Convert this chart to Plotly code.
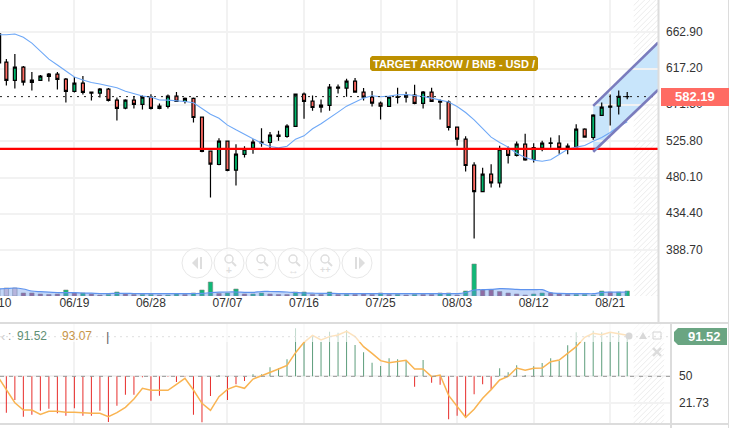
import plotly.graph_objects as go

W, H = 737, 428
def px(x): return x / W
def py(y): return 1 - y / H

# ---------- data ----------
dates = ["06/%02d" % d for d in range(10, 31)] + ["07/%02d" % d for d in range(1, 32)] + ["08/%02d" % d for d in range(1, 24)]
idx = list(range(len(dates)))
tick_labels = ["06/19", "06/28", "07/07", "07/16", "07/25", "08/03", "08/12", "08/21"]
first_label = "10"
price_ticks = [662.9, 617.2, 571.5, 525.8, 480.1, 434.4, 388.7]

opens = [661, 625.7, 602.6, 619.4, 600, 602.6, 607.6, 610.5, 604.2, 588.7,
         599.2, 586.6, 586.6, 591.6, 577.8, 567.7, 577.8, 572.3, 581.6, 567.3,
         569.8, 582.8, 576.1, 579.9, 556.4, 513.5, 496.7, 526.1, 489.6, 509.5,
         517.3, 524, 524.4, 532, 532, 544.6, 585.3, 576.5, 569, 571.1,
         592.9, 592.9, 601.7, 587.9, 581.6, 574, 569.8, 581.1, 581.6, 584,
         573.6, 587.9, 575.3, 575.3, 543.8, 528.6, 495.9, 462.7, 484.5, 473.6,
         516, 508.1, 522.3, 503, 517.7, 523.2, 523.6, 517.7, 519, 541.2,
         530.7, 558.5, 568.9, 570.2, 582]
highs = [662, 629.4, 635.7, 620.6, 613.1, 609.3, 611.8, 613.1, 605.5, 606.8,
         608, 588.7, 592.9, 592.9, 581.1, 579, 582.8, 583.7, 585.3, 573.6,
         584.9, 587.9, 581.1, 581.1, 557.2, 514.4, 529.9, 526.5, 522.3, 519.6,
         528.6, 542.5, 537.5, 539.1, 547.5, 586.2, 587.4, 583.7, 578.6, 598,
         597.5, 604.7, 605.5, 592.9, 589.1, 576.1, 582, 593.3, 588.3, 597.1,
         589.1, 593.3, 578.6, 577.4, 544.6, 532.4, 499.7, 492.5, 497.1, 520.2,
         519.4, 525.7, 535.4, 523.6, 526.5, 530.7, 533.7, 523.2, 547.5, 542.5,
         560.1, 574.8, 584.9, 590, 587.9]
lows = [624, 596.3, 592.5, 596.3, 590, 601.7, 601.3, 591.2, 574.8, 587.4,
        584.9, 577.4, 581.1, 576.1, 552.2, 566.4, 567.3, 566, 566, 566.4,
        567.3, 575.3, 573.6, 549.6, 512.3, 455.1, 495.9, 488.3, 470.3, 505.5,
        510.2, 519, 517.3, 526.5, 530.3, 543.8, 554.3, 564.3, 562.2, 564.3,
        586.2, 582, 587, 577.4, 569.8, 553.4, 569.8, 573.6, 574.8, 572.7,
        567.3, 575.3, 553.4, 539.6, 520.2, 487.9, 403.5, 462.7, 467.7, 467.7,
        498, 506.8, 501.3, 499.2, 513.5, 517.7, 510.2, 509.7, 519, 530.7,
        527.8, 558, 545.9, 559.7, 579]
closes = [625, 602.6, 619.4, 600.5, 603, 608, 610.5, 603.8, 588.7, 599.2,
          587.4, 587.9, 591.6, 577.4, 567.3, 577.8, 572.3, 581.6, 567.3, 570.2,
          582.8, 576.1, 579.9, 555.9, 513.1, 497.1, 526.1, 489.2, 509.7, 516,
          524.9, 524.9, 533.7, 533.7, 545, 585.3, 576.1, 568.5, 571.5, 594.2,
          594.2, 601.7, 587.9, 581.6, 574, 570.2, 581.6, 582, 584, 573.6,
          587.9, 576.1, 576.5, 543.3, 528.6, 495.5, 462.7, 484.5, 473.6, 516,
          508.1, 522.3, 502.6, 518.1, 523.6, 524, 517.7, 519.8, 541.2, 531.2,
          558.9, 568.9, 570.2, 582.4, 582.19]
price_ma = [660, 660, 661, 657, 649.6, 639, 629.4, 622, 614, 606.8,
            603, 600, 598, 595.8, 593.3, 589, 585.8, 583, 581.6, 578,
            577.8, 577, 576, 574.4, 567.7, 560, 555, 546.3, 540.4, 535,
            528.6, 523.6, 519.4, 517.7, 519.8, 528.6, 532.8, 541.7, 548, 555.9,
            562.7, 570.2, 575.3, 580.3, 583.2, 582, 582.8, 584.5, 584.9, 583.7,
            582.4, 580.3, 577.4, 575.3, 569.8, 562.2, 553, 541.7, 531.2, 524.4,
            518.6, 511, 505.5, 502.2, 500.9, 502.6, 508.9, 516, 518.6, 520.7,
            526.1, 530.7, 537, 544.6, 550.5]
last_price = 582.19
support = 516.5
channel_x = [70, 77.65]
channel_upper = [570.6, 650.4]
channel_lower = [512.7, 590.8]

volume = [7, 8, 8, 3, 3, 2, 1.5, 2, 6, 3,
          3, 2, 1, 1.5, 4, 2, 1.5, 1.5, 1.5, 1,
          1, 2, 1.5, 3, 6, 14, 2.5, 3, 7, 2,
          2, 3, 2, 1.5, 1.5, 4, 4, 1.5, 1.5, 4,
          1.5, 1.5, 1.5, 2, 1.5, 3, 1.5, 1.5, 1, 1.5,
          1.5, 1.5, 3, 3, 1, 5, 32, 6, 6, 4.5,
          3, 2, 1, 2, 3, 3, 2, 1.5, 1.5, 1.5,
          1, 5, 4, 4, 5]
volume_side = list("pppmmmmmgm" "gmmggmmggm" "ggmggg" "mggm" "ggmmmggmmg" "mgmmm" "gmgmg" "mm" "ggmgg" "mmmmmm" "gg" "mmm" "gggg" "mgg")
volume_ma = [7, 7.5, 8, 7, 5, 4.3, 3.8, 3.5, 3.3, 3.3,
             3, 2.8, 2.5, 2.5, 2.7, 2.7, 2.5, 2.4, 2.4, 2.4,
             2.4, 2.4, 2.4, 2.5, 2.6, 3.3, 3.8, 4, 4, 3.7,
             3.6, 4.5, 4.5, 4.3, 4, 3.5, 3, 2.8, 2.6, 2.6,
             2.5, 2.4, 2.4, 2.4, 2.4, 2.4, 2.4, 2.4, 2.4, 2.4,
             2.4, 2.4, 2.4, 2.4, 2.4, 3.5, 6, 6.3, 6.6, 7.3,
             7.2, 6.6, 6.3, 6.3, 6.3, 3.3, 2.6, 2.4, 2.4, 2.4,
             2.3, 3.6, 3.8, 3.8, 4]

osc_bars = [50, 12, 25.2, 7.8, 9.9, 14.1, 16.2, 11.3, 8.8, 16.5, 8.8,
            8.8, 14.1, 2.2, 19.3, 30.8, 30.8, 49, 24.5, 29.8, 49.7,
            44.1, 49.7, 9.9, 1.9, 29.4, 51.4, 25.2, 41.6, 45.1, 52.1,
            52.1, 59.4, 58.4, 67.8, 100.3, 86.3, 93.3, 86.3, 96.8, 95.7,
            98.5, 82.8, 75.1,
            64.3, 60.8, 68.9, 67.8, 67.1, 39.2, 67.1, 43.4, 41.3, 5,
            8.8, 6.7, 31.2, 41.6, 36.4, 58.4, 54.2, 61.5, 51.4, 60.5,
            64, 68.9, 66.4, 82.5, 96.1, 86.3, 97.8, 96.1, 96.4, 97.5, 91.52]
osc_line = [49.7, 35.7, 22.4, 14.8, 14.8, 10.2, 13.4, 13.4, 12.3, 12.3, 11.6,
            11.3, 11.3, 7.8, 12, 17.6, 26.3, 37.5, 35.4, 35.4, 35.4,
            41.6, 47.9, 35.7, 21.8, 14.4, 28.7, 36.4, 39.9, 37.5, 47.2,
            50.7, 54.6, 57.7, 61.5, 74.8, 85.6, 92.9, 88.1, 91.6, 93.3,
            97.1, 91.6, 81.1,
            74.1, 66.4, 64.3, 65.7, 66.8, 57.7, 57.7, 49.7, 51.4, 30.1,
            18.3, 7.1, 15.5, 27, 36.1, 46.2, 50, 58.7, 56.3, 58.4,
            58.7, 65.4, 67.1, 73.8, 81.1, 90.9, 95, 93.6, 96.1, 94.7, 93.07]
osc_mid = 50
osc_last = 91.52
osc_ticks = [50, 21.73]

# ---------- axes geometry ----------
XPER = 8.505
def i_of(x): return (x + 2.15) / XPER
MAIN_RANGE = [i_of(0), i_of(658)]
LOW_RANGE = [i_of(0), i_of(670)]
tick_idx = [dates.index(t) for t in tick_labels]
Y_MAIN = [331.2, 703.8]
Y_LOW = [1.16, 104.8]
FONT = "Liberation Sans, Arial, sans-serif"
GRID = "#f2f2f2"
BORDER = "#dcdcdc"

fig = go.Figure()

fig.add_trace(go.Candlestick(
    x=idx, open=opens, high=highs, low=lows, close=closes, xaxis="x", yaxis="y", whiskerwidth=0,
    increasing=dict(line=dict(color="#000000", width=1.2), fillcolor="#00b76c"),
    decreasing=dict(line=dict(color="#000000", width=1.2), fillcolor="#ff6b63"),
    hoverinfo="skip"))
# visible edge of the first candle, which the left border cuts
fig.add_trace(go.Scatter(x=[i_of(0.6)] * 2, y=[highs[0], lows[0]], mode="lines", line=dict(color="#000000", width=1.2),
                         xaxis="x", yaxis="y", hoverinfo="skip"))
fig.add_trace(go.Scatter(x=idx, y=price_ma, mode="lines", line=dict(color="#6ea8f7", width=1.1),
                         xaxis="x", yaxis="y", hoverinfo="skip"))

# dotted last price and support lines
fig.add_trace(go.Scatter(x=MAIN_RANGE, y=[last_price] * 2, mode="lines",
                         line=dict(color="#222222", width=1, dash="2px 5px"), xaxis="x", yaxis="y", hoverinfo="skip"))
fig.add_trace(go.Scatter(x=MAIN_RANGE, y=[support] * 2, mode="lines",
                         line=dict(color="#ff0000", width=2.2), xaxis="x", yaxis="y", hoverinfo="skip"))

# volume
colors = {"g": "#10b877", "m": "#a85578", "p": "#e8c8d4"}
fig.add_trace(go.Bar(x=idx, y=volume, width=0.52, xaxis="x", yaxis="y3",
                     marker=dict(color=[colors[c] for c in volume_side],
                                 line=dict(color="rgba(130,130,130,0.55)", width=1)), hoverinfo="skip"))
fig.add_trace(go.Scatter(x=idx, y=volume_ma, mode="lines", fill="tozeroy", fillcolor="rgba(100,149,237,0.38)",
                         line=dict(color="#5f93ee", width=1.2, shape="spline"), xaxis="x", yaxis="y3", hoverinfo="skip"))

# oscillator (nearly opaque colours make plotly round the thin bars to single pixels)
fig.add_trace(go.Bar(x=idx, y=[v - osc_mid for v in osc_bars], base=osc_mid, width=0.12, xaxis="x2", yaxis="y2",
                     marker=dict(color=["rgba(232,48,46,0.99)" if v < osc_mid else "rgba(95,159,125,0.99)" for v in osc_bars],
                                 line=dict(width=0)),
                     hoverinfo="skip"))
fig.add_trace(go.Scatter(x=idx, y=osc_line, mode="lines", line=dict(color="#f9b452", width=1.5),
                         xaxis="x2", yaxis="y2", hoverinfo="skip"))
fig.add_trace(go.Scatter(x=LOW_RANGE, y=[osc_mid] * 2, mode="lines", line=dict(color="#999999", width=1, dash="4px 5px"),
                         xaxis="x2", yaxis="y2", hoverinfo="skip"))
fig.add_trace(go.Scatter(x=LOW_RANGE, y=[osc_last] * 2, mode="lines", line=dict(color="#aaaaaa", width=1, dash="2px 4px"),
                         xaxis="x2", yaxis="y2", hoverinfo="skip"))

shapes = []

def hatch_path(x0, y0, x1, y1, step=5.5):
    # diagonal "/" strokes clipped to a pixel rectangle
    segs = []
    c = x0 + y0
    while c < x1 + y1:
        ax = max(x0, c - y1); ay = c - ax
        bx = min(x1, c - y0); by = c - bx
        if bx > ax:
            segs.append("M %f,%f L %f,%f" % (px(ax), py(ay), px(bx), py(by)))
        c += step
    return " ".join(segs)

for r in [(633.7, 0, 658, 296), (633.7, 324, 664, 423)]:
    shapes.append(dict(type="path", xref="paper", yref="paper", path=hatch_path(*r),
                       line=dict(color="#ececec", width=1), layer="below"))

# regression channel
cp = "M %f,%f L %f,%f L %f,%f L %f,%f Z" % (channel_x[0], channel_upper[0], channel_x[1], channel_upper[1],
                                            channel_x[1], channel_lower[1], channel_x[0], channel_lower[0])
shapes.append(dict(type="path", path=cp, xref="x", yref="y", fillcolor="#c8e5fb", line=dict(width=0), layer="below"))
for arr in (channel_upper, channel_lower):
    shapes.append(dict(type="line", xref="x", yref="y", x0=channel_x[0], x1=channel_x[1], y0=arr[0], y1=arr[1],
                       line=dict(color="#7a7cbd", width=2.6), layer="above"))

def prect(x0, y0, x1, y1, **kw):
    shapes.append(dict(type="rect", xref="paper", yref="paper", x0=px(x0), x1=px(x1), y0=py(y0), y1=py(y1), **kw))
def ppath(points, close=True, **kw):
    d = "M " + " L ".join("%f,%f" % (px(a), py(b)) for a, b in points) + (" Z" if close else "")
    shapes.append(dict(type="path", xref="paper", yref="paper", path=d, **kw))
def pcircle(cx, cy, r, **kw):
    shapes.append(dict(type="circle", xref="paper", yref="paper", x0=px(cx - r), x1=px(cx + r),
                       y0=py(cy - r), y1=py(cy + r), **kw))

# pale header wash in the oscillator panel
prect(0, 324, 670, 342, fillcolor="rgba(255,255,255,0.62)", line=dict(width=0), layer="above")

# panel frames
for (x0, y0, x1, y1) in [(0, 322, 729, 324), (0, 423, 729, 425), (657.5, 0, 659.5, 322), (670, 322, 672, 428),
                         (728, 0, 729, 428)]:
    prect(x0, y0, x1, y1, fillcolor=BORDER, line=dict(width=0), layer="above")

# title badge
ppath([(372, 56), (536, 56), (538, 58), (538, 69), (536, 71), (372, 71), (370, 69), (370, 58)],
      fillcolor="#bd9000", line=dict(width=0), layer="above")
# price tags
prect(661, 88, 729, 106, fillcolor="#ff6b63", line=dict(width=0), layer="above")
ppath([(674, 332), (678, 328), (727, 328), (727, 345), (678, 345), (674, 341)],
      fillcolor="#6aa582", line=dict(width=0), layer="above")

# navigation buttons
ICON = "#dedede"
nav_x = [197, 229, 261, 293, 325, 357]
for cx in nav_x:
    pcircle(cx, 263, 15, fillcolor="rgba(255,255,255,0.6)", line=dict(color="#e8e8e8", width=1), layer="above")
ppath([(198, 257), (198, 269), (192, 263)], fillcolor=ICON, line=dict(width=0), layer="above")
prect(200, 257, 202, 269, fillcolor=ICON, line=dict(width=0), layer="above")
prect(355, 257, 357, 269, fillcolor=ICON, line=dict(width=0), layer="above")
ppath([(359, 257), (359, 269), (365, 263)], fillcolor=ICON, line=dict(width=0), layer="above")
for cx in nav_x[1:5]:
    pcircle(cx, 259, 4, fillcolor="rgba(0,0,0,0)", line=dict(color=ICON, width=1.5), layer="above")
    ppath([(cx + 3, 262), (cx + 7, 266)], close=False, line=dict(color=ICON, width=2), layer="above")

# small panel icons
pcircle(629, 336, 3.5, fillcolor="#d8d8d8", line=dict(width=0), layer="above")
ppath([(639, 339), (643, 332), (647, 339)], fillcolor="#d8d8d8", line=dict(width=0), layer="above")
prect(653, 332, 661, 339, fillcolor="rgba(255,255,255,0)", line=dict(color="#d4d4d4", width=1), layer="above")
for a, b in [((653, 348), (661, 356)), ((661, 348), (653, 356))]:
    ppath([a, b], close=False, line=dict(color="#dcdcdc", width=2.4), layer="above")

def ann(x, y, text, color, size=12, bold=False, anchor="center"):
    return dict(xref="paper", yref="paper", x=px(x), y=py(y), text=("<b>%s</b>" % text) if bold else text,
                showarrow=False, xanchor=anchor, yanchor="middle",
                font=dict(family=FONT, size=size, color=color))

annotations = [
    ann(454, 63.5, "TARGET ARROW / BNB - USD /", "#ffffff", 11, True),
    ann(695, 96.5, "%.2f" % last_price, "#ffffff", 13, True),
    ann(723, 336.5, "%.2f" % osc_last, "#ffffff", 13, True, "right"),
    ann(15, 336, "91.52", "#5f8f75", 12, False, "left"),
    ann(60, 336, "93.07", "#c8964a", 12, False, "left"),
    ann(107, 336, "|", "#666666", 13),
    ann(3, 336, "‹", "#cccccc", 13),
    ann(9, 336, ":", "#999999", 12),
    ann(229, 270, "+", ICON, 10, True),
    ann(293, 270, "↔", ICON, 11),
    ann(325, 270, "++", ICON, 9, True),
    ann(261, 269, "−", ICON, 10, True),
    ann(5, 302.5, first_label, "#333333", 12),
]

xbase = dict(showgrid=True, gridcolor=GRID, gridwidth=1.5, zeroline=False, showline=False, ticks="",
             tickmode="array", tickvals=tick_idx)
fig.update_layout(
    width=W, height=H, margin=dict(l=0, r=0, t=0, b=0), autosize=False, showlegend=False,
    paper_bgcolor="#ffffff", plot_bgcolor="rgba(0,0,0,0)", boxgap=0.5, barmode="overlay",
    font=dict(family=FONT, size=12, color="#333333"),
    xaxis=dict(xbase, domain=[0, px(658)], range=MAIN_RANGE, ticktext=tick_labels, anchor="y",
               rangeslider=dict(visible=False), tickfont=dict(size=12, color="#333333"), ticklabelstandoff=-2),
    yaxis=dict(domain=[py(296), 1], range=Y_MAIN, side="right", anchor="x", tickmode="array", tickvals=price_ticks,
               ticktext=["%.2f" % t for t in price_ticks], showgrid=True, gridcolor=GRID, gridwidth=1.5,
               zeroline=False, ticks="", ticklabelstandoff=7, ticklabelshift=-1, tickfont=dict(size=12, color="#333333")),
    yaxis3=dict(domain=[py(296), py(256)], range=[0, 40], anchor="x", visible=False),
    xaxis2=dict(xbase, domain=[0, px(670)], range=LOW_RANGE, ticktext=[""] * len(tick_idx), anchor="y2"),
    yaxis2=dict(domain=[py(423), py(324)], range=Y_LOW, side="right", anchor="x2", tickmode="array", tickvals=osc_ticks,
                ticktext=["50", "21.73"], showgrid=True, gridcolor=GRID, gridwidth=1.5, zeroline=False, ticks="",
                ticklabelstandoff=8, ticklabelshift=-1, tickfont=dict(size=12, color="#333333")),
    shapes=shapes, annotations=annotations,
)
fig.write_html("out.html", config=dict(displayModeBar=False),
               post_script="document.body.style.margin='0';document.body.style.overflow='hidden';")
